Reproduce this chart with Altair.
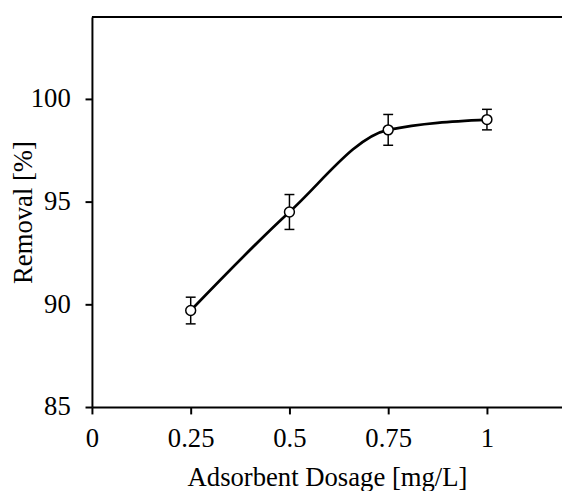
import altair as alt
import pandas as pd

# ---- data ----
dosage = [0.25, 0.5, 0.75, 1.0]
removal = [89.7, 94.5, 98.5, 99.0]
err = [0.65, 0.85, 0.75, 0.5]

x_ticks = [0, 0.25, 0.5, 0.75, 1]
y_ticks = [85, 90, 95, 100]
x_domain = [0, 1.19]
y_domain = [85, 104]

df = pd.DataFrame({"dosage": dosage, "removal": removal, "err": err})
df["lo"] = df["removal"] - df["err"]
df["hi"] = df["removal"] + df["err"]

FONT = "Liberation Serif"
xscale = alt.Scale(domain=x_domain, nice=False, zero=False)
yscale = alt.Scale(domain=y_domain, nice=False, zero=False)

xaxis = alt.Axis(values=x_ticks, format="~g", title="Adsorbent Dosage [mg/L]",
                 labelPadding=12, titlePadding=13, labelFlush=False)
yaxis = alt.Axis(values=y_ticks, format="d", title="Removal [%]",
                 labelPadding=15, titlePadding=-7, labelFlush=False)

base = alt.Chart(df)

line = base.mark_line(interpolate="monotone", color="black", strokeWidth=2.75).encode(
    x=alt.X("dosage:Q", scale=xscale, axis=xaxis),
    y=alt.Y("removal:Q", scale=yscale, axis=yaxis),
)

bars = base.mark_rule(color="black", strokeWidth=1.5).encode(
    x="dosage:Q", y="lo:Q", y2="hi:Q"
)
cap_lo = base.mark_tick(orient="horizontal", color="black", size=10, thickness=1.5, opacity=1).encode(
    x="dosage:Q", y="lo:Q"
)
cap_hi = base.mark_tick(orient="horizontal", color="black", size=10, thickness=1.5, opacity=1).encode(
    x="dosage:Q", y="hi:Q"
)

points = base.mark_point(shape="circle", fill="white", stroke="black", strokeWidth=1.5,
                         size=100, opacity=1, fillOpacity=1).encode(
    x="dosage:Q", y="removal:Q"
)

top = alt.Chart(pd.DataFrame({"a": [0]})).mark_rule(color="black", strokeWidth=2).encode(
    x=alt.datum(x_domain[0]), x2=alt.datum(x_domain[1]), y=alt.datum(y_domain[1])
)

chart = alt.layer(line, bars, cap_lo, cap_hi, points, top).properties(
    width=476, height=395,
    padding={"left": 85, "top": 6, "right": 0, "bottom": 84},
    autosize=alt.AutoSizeParams(type="none"),
).configure_view(stroke=None).configure_axis(
    grid=False, domainColor="black", domainWidth=2, tickColor="black", tickWidth=2,
    tickSize=7, labelFont=FONT, labelFontSize=27, labelColor="black",
    titleFont=FONT, titleFontSize=27, titleFontWeight="normal", titleColor="black",
)

chart.save("out.html", embed_options={"renderer": "svg", "actions": False})
